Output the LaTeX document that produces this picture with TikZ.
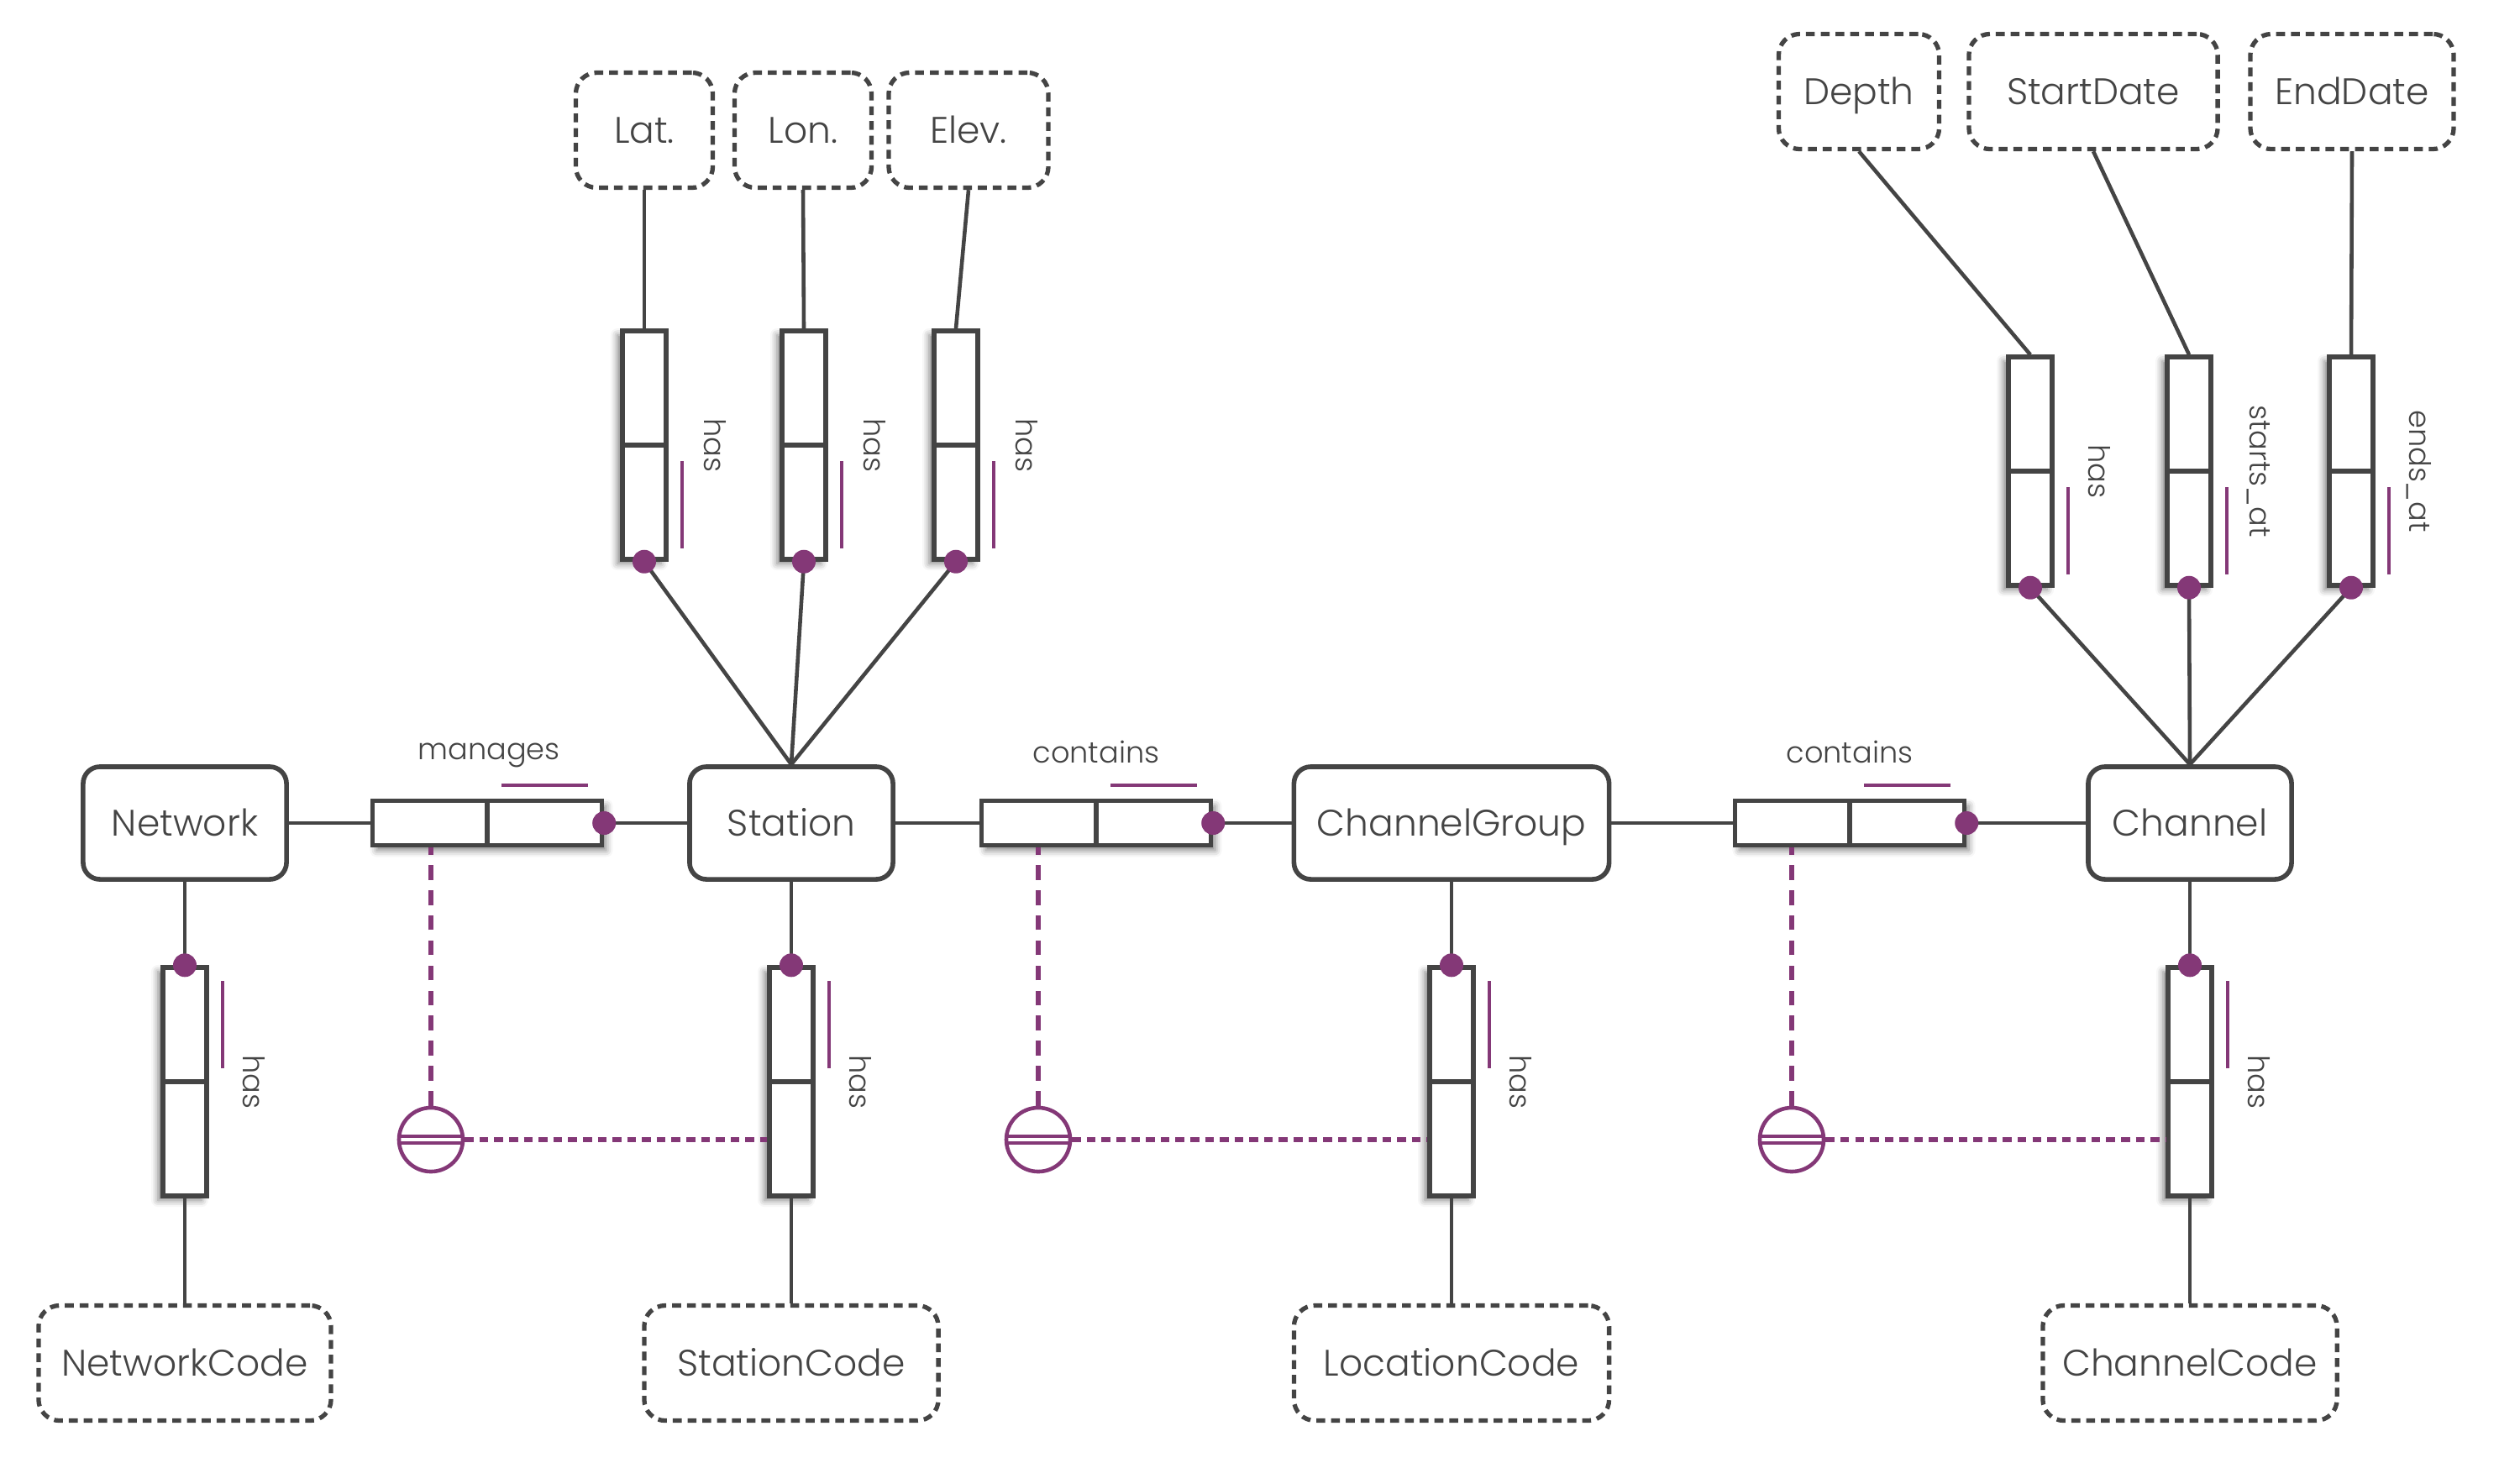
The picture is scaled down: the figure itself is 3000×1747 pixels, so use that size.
\documentclass[tikz,border=0pt]{standalone}
\usepackage{fontspec}
\setmainfont{Poppins}[UprightFont=* Light]
\usepackage{tikz}
\usetikzlibrary{positioning, shadows.blur}
\definecolor{ink}{HTML}{444444}
\definecolor{plum}{HTML}{843877}
\tikzset{
  entity/.style={draw=ink, line width=1.6pt, rounded corners=0.2cm, minimum width=2.42cm, minimum height=1.34cm, text=ink, text height=1.9ex, text depth=0.3ex, font=\fontsize{12.5}{15}\selectfont},
  attrbox/.style={draw=ink, line width=1.5pt, dash pattern=on 3pt off 2pt, rounded corners=0.25cm, minimum height=1.37cm, text=ink, text height=1.9ex, text depth=0.3ex, font=\fontsize{12.5}{15}\selectfont},
  hrel/.style={draw=ink, line width=1.5pt, fill=white, inner sep=0pt, minimum width=2.73cm, minimum height=0.53cm,
    blur shadow={shadow xshift=0.05cm, shadow yshift=-0.06cm, shadow blur radius=0.08cm, shadow opacity=50},
    path picture={\draw[ink, line width=1.5pt] (path picture bounding box.north) -- (path picture bounding box.south);}},
  vrel/.style={draw=ink, line width=1.5pt, fill=white, inner sep=0pt, minimum width=0.52cm, minimum height=2.72cm,
    blur shadow={shadow xshift=-0.06cm, shadow yshift=-0.05cm, shadow blur radius=0.08cm, shadow opacity=50},
    path picture={\draw[ink, line width=1.5pt] (path picture bounding box.west) -- (path picture bounding box.east);}},
  link/.style={draw=ink, line width=1.3pt},
  dot/.style={circle, fill=plum, inner sep=0pt, minimum size=0.28cm},
  bar/.style={draw=plum, line width=1.1pt},
  dep/.style={draw=plum, line width=1.6pt, dash pattern=on 5pt off 3.5pt},
  hdep/.style={draw=plum, line width=1.6pt, dash pattern=on 3pt off 2pt},
  depnode/.style={circle, draw=plum, line width=1.3pt, fill=white, minimum size=0.76cm, inner sep=0pt,
    path picture={
      \draw[plum, line width=1pt] ([yshift=0.04cm]path picture bounding box.west) -- ([yshift=0.04cm]path picture bounding box.east);
      \draw[plum, line width=1pt] ([yshift=-0.04cm]path picture bounding box.west) -- ([yshift=-0.04cm]path picture bounding box.east);}},
  rlabel/.style={text=ink, font=\fontsize{10}{12}\selectfont, inner sep=1pt, text depth=0pt},
}
\begin{document}
\begin{tikzpicture}[x=0.01cm, y=-0.01cm]
  \useasboundingbox (0,0) rectangle (3000,1747);
  % entities
  \node[entity] (Net) at (220,980) {Network};
  \node[entity] (Sta) at (942,980) {Station};
  \node[entity, minimum width=3.75cm] (CG) at (1728,980) {ChannelGroup};
  \node[entity] (Chan) at (2607,980) {Channel};
  % relationships on the main row
  \node[hrel] (man) at (580,980) {};
  \node[hrel] (con1) at (1305,980) {};
  \node[hrel] (con2) at (2202,980) {};
  \node[rlabel] at (582,895) {manages};
  \node[rlabel] at (1305,895) {contains};
  \node[rlabel] at (2202,895) {contains};
  % station attributes
  \node[attrbox, minimum width=1.63cm] (Lat) at (767,155) {Lat.};
  \node[attrbox, minimum width=1.63cm] (Lon) at (956,155) {Lon.};
  \node[attrbox, minimum width=1.90cm] (Elev) at (1153,155) {Elev.};
  \node[vrel] (hasLat) at (767,530) {};
  \node[vrel] (hasLon) at (957,530) {};
  \node[vrel] (hasElev) at (1138,530) {};
  % channel attributes
  \node[attrbox, minimum width=1.91cm] (Depth) at (2213,109) {Depth};
  \node[attrbox, minimum width=2.96cm] (Start) at (2492,109) {StartDate};
  \node[attrbox, minimum width=2.42cm] (End) at (2800,109) {EndDate};
  \node[vrel] (hasDepth) at (2417,561) {};
  \node[vrel] (hasStart) at (2606,561) {};
  \node[vrel] (hasEnd) at (2799,561) {};
  % codes
  \node[vrel] (hasNet) at (220,1288) {};
  \node[vrel] (hasSta) at (942,1288) {};
  \node[vrel] (hasCG) at (1728,1288) {};
  \node[vrel] (hasChan) at (2607,1288) {};
  \node[attrbox, minimum width=3.48cm] (NetCode) at (220,1623) {NetworkCode};
  \node[attrbox, minimum width=3.50cm] (StaCode) at (942,1623) {StationCode};
  \node[attrbox, minimum width=3.75cm] (LocCode) at (1728,1623) {LocationCode};
  \node[attrbox, minimum width=3.50cm] (ChanCode) at (2607,1623) {ChannelCode};
  % dependency markers
  \node[depnode] (dep1) at (513,1357) {};
  \node[depnode] (dep2) at (1236,1357) {};
  \node[depnode] (dep3) at (2133,1357) {};

  % connectors
  \draw[link] (Net) -- (man);
  \draw[link] (man) -- (Sta);
  \draw[link] (Sta) -- (con1);
  \draw[link] (con1) -- (CG);
  \draw[link] (CG) -- (con2);
  \draw[link] (con2) -- (Chan);
  \draw[link] (Lat.south) -- (hasLat.north);
  \draw[link] (Lon.south) -- (hasLon.north);
  \draw[link] (Elev.south) -- (hasElev.north);
  \draw[link] (hasLat.south) -- (Sta.north);
  \draw[link] (hasLon.south) -- (Sta.north);
  \draw[link] (hasElev.south) -- (Sta.north);
  \draw[link] (Depth.south) -- (hasDepth.north);
  \draw[link] (Start.south) -- (hasStart.north);
  \draw[link] (End.south) -- (hasEnd.north);
  \draw[link] (hasDepth.south) -- (Chan.north);
  \draw[link] (hasStart.south) -- (Chan.north);
  \draw[link] (hasEnd.south) -- (Chan.north);
  \draw[link] (Net) -- (hasNet);
  \draw[link] (hasNet) -- (NetCode);
  \draw[link] (Sta) -- (hasSta);
  \draw[link] (hasSta) -- (StaCode);
  \draw[link] (CG) -- (hasCG);
  \draw[link] (hasCG) -- (LocCode);
  \draw[link] (Chan) -- (hasChan);
  \draw[link] (hasChan) -- (ChanCode);
  \draw[dep] (dep1.north) -- (dep1.north |- man.south);
  \draw[dep] (dep2.north) -- (dep2.north |- con1.south);
  \draw[dep] (dep3.north) -- (dep3.north |- con2.south);
  \draw[hdep] (dep1.east) -- (dep1.east -| hasSta.west);
  \draw[hdep] (dep2.east) -- (dep2.east -| hasCG.west);
  \draw[hdep] (dep3.east) -- (dep3.east -| hasChan.west);

  % ends and bars
  \node[dot] at (man.east) {};
  \node[dot] at (con1.east) {};
  \node[dot] at (con2.east) {};
  \foreach \r in {man, con1, con2}
    \draw[bar] ([xshift=0.17cm, yshift=0.16cm]\r.north) -- ([xshift=-0.19cm, yshift=0.16cm]\r.north east);
  \foreach \r in {hasLat, hasLon, hasElev, hasDepth, hasStart, hasEnd} {
    \node[dot] at (\r.south) {};
    \draw[bar] ([xshift=0.16cm, yshift=-0.19cm]\r.east) -- ([xshift=0.16cm, yshift=0.16cm]\r.south east);
  }
  \foreach \r in {hasNet, hasSta, hasCG, hasChan} {
    \node[dot] at (\r.north) {};
    \draw[bar] ([xshift=0.16cm, yshift=-0.19cm]\r.north east) -- ([xshift=0.16cm, yshift=0.16cm]\r.east);
    \node[rlabel, rotate=-90] at ([xshift=0.82cm]\r.center) {has};
  }
  \node[rlabel, rotate=-90] at ([xshift=0.84cm]hasLat.center) {has};
  \node[rlabel, rotate=-90] at ([xshift=0.84cm]hasLon.center) {has};
  \node[rlabel, rotate=-90] at ([xshift=0.84cm]hasElev.center) {has};
  \node[rlabel, rotate=-90] at ([xshift=0.82cm]hasDepth.center) {has};
  \node[rlabel, rotate=-90] at ([xshift=0.84cm]hasStart.center) {starts\_at};
  \node[rlabel, rotate=-90] at ([xshift=0.82cm]hasEnd.center) {ends\_at};
\end{tikzpicture}
\end{document}
